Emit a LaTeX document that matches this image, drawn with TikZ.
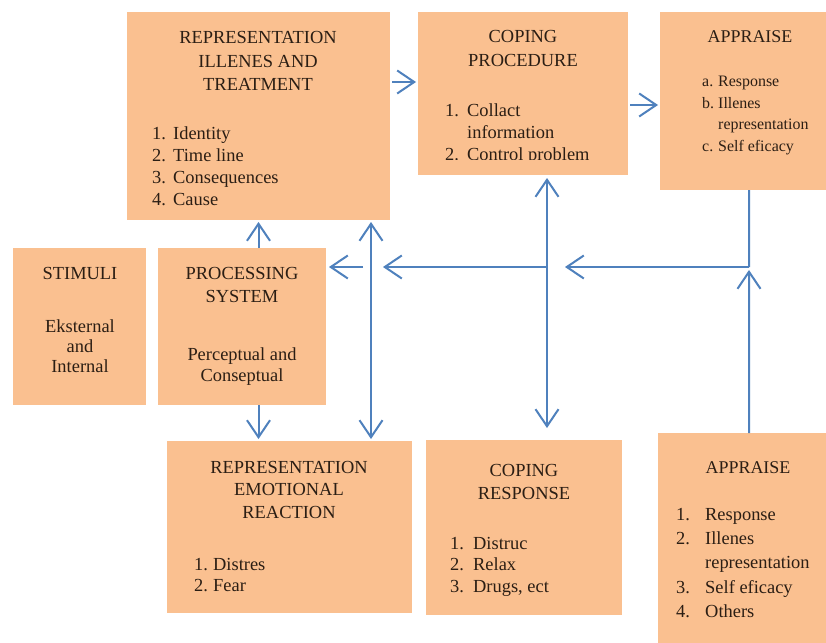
\documentclass[tikz,border=0pt]{standalone}
\usepackage{fontspec}
\setmainfont{Liberation Serif}
\usepackage{xcolor}
\usetikzlibrary{arrows.meta}

\definecolor{boxfill}{HTML}{FAC090}
\definecolor{linkblue}{HTML}{4F81BD}
\definecolor{inkbrown}{HTML}{2B1E14}

\newcommand{\ttl}[1]{\begin{tabular}[t]{@{}c@{}}#1\end{tabular}}
\newcommand{\lst}[2]{\begin{tabular}[t]{@{}p{#1}@{}l@{}}#2\end{tabular}}

\tikzset{
  box/.style={fill=boxfill, inner sep=0pt, outer sep=0pt, anchor=north west},
  txt/.style={text=inkbrown, inner sep=0pt, font=\fontsize{18.5}{22}\selectfont},
  hd/.style={txt, anchor=base, font=\fontsize{18.5}{23.5}\selectfont},
  it/.style={txt, anchor=base west},
  link/.style={draw=linkblue, line width=2bp, ->},
}

\begin{document}
\begin{tikzpicture}[x=1bp, y=-1bp, >={Straight Barb[length=17bp,width=23bp]}]
\fill[white] (0,0) rectangle (826,643);
\useasboundingbox (0,0) rectangle (826,643);

% The boxes
\node[box, minimum width=263bp, minimum height=208bp] (rit) at (127,12) {};
\node[box, minimum width=210bp, minimum height=163bp] (cp) at (418,12) {};
\node[box, minimum width=178bp, minimum height=178bp] (at) at (660,12) {};
\node[box, minimum width=133bp, minimum height=157bp] (st) at (13,248) {};
\node[box, minimum width=168bp, minimum height=157bp] (ps) at (158,248) {};
\node[box, minimum width=245bp, minimum height=172bp] (rer) at (167,441) {};
\node[box, minimum width=196bp, minimum height=175bp] (cr) at (426,440) {};
\node[box, minimum width=182bp, minimum height=230bp] (ab) at (658,433) {};

% The texts
\node[hd] (rit-h) at (258,44) {\ttl{REPRESENTATION\\ILLENES AND\\TREATMENT}};
\node[it] (rit-l) at (152,140) {\lst{21bp}{1. & Identity\\2. & Time line\\3. & Consequences\\4. & Cause}};

\node[hd] (cp-h) at (523,43) {\ttl{COPING\\PROCEDURE}};
\begin{scope}
  \clip (418,12) rectangle (628,160);
  \node[it] (cp-l) at (445,117) {\lst{22bp}{1. & Collact\\ & information\\2. & Control problem}};
\end{scope}

\node[hd, font=\fontsize{18}{22}\selectfont] (at-h) at (750,43) {\ttl{APPRAISE}};
\node[it, font=\fontsize{16}{21.5}\selectfont] (at-l) at (702,87) {\lst{16bp}{a. & Response\\b. & Illenes\\ & representation\\c. & Self eficacy}};

\node[hd] (st-h) at (80,279) {\ttl{STIMULI}};
\node[hd, font=\fontsize{18.5}{20.5}\selectfont] (st-b) at (80,332) {\ttl{Eksternal\\and\\Internal}};

\node[hd, font=\fontsize{18.5}{24}\selectfont] (ps-h) at (242,279) {\ttl{PROCESSING\\SYSTEM}};
\node[hd, font=\fontsize{18.5}{22}\selectfont] (ps-b) at (242,360) {\ttl{Perceptual and\\Conseptual}};

\node[hd, font=\fontsize{18.5}{23}\selectfont] (rer-h) at (289,473) {\ttl{REPRESENTATION\\EMOTIONAL\\REACTION}};
\node[it] (rer-l) at (194,570) {\lst{19bp}{1. & Distres\\2. & Fear}};

\node[hd, font=\fontsize{18.5}{24}\selectfont] (cr-h) at (524,476) {\ttl{COPING\\RESPONSE}};
\node[it] (cr-l) at (450,549) {\lst{23bp}{1. & Distruc\\2. & Relax\\3. & Drugs, ect}};

\node[hd, font=\fontsize{18}{22}\selectfont] (ab-h) at (748,473) {\ttl{APPRAISE}};
\node[it, font=\fontsize{18.5}{24.5}\selectfont] (ab-l) at (676,520) {\lst{29bp}{1. & Response\\2. & Illenes\\ & representation\\3. & Self eficacy\\4. & Others}};

% The links
\coordinate (lane) at (371,267);
\coordinate (mid) at (547,267);
\coordinate (hub) at (749,267);

\draw[link, shorten <=2bp, shorten >=2bp] (rit.east |- 0,82) -- (cp.west |- 0,82);
\draw[link, shorten <=2bp, shorten >=2bp] (cp.east |- 0,105) -- (at.west |- 0,105);
\draw[link, shorten >=2bp] (ps.north -| rit.south) -- (rit.south);
\draw[link, shorten >=2bp] (ps.south -| rit.south) -- (rer.north -| rit.south);
\draw[link, <->, shorten <=2bp, shorten >=2bp] (rit.south -| lane) -- (rer.north -| lane);
\draw[link, <->, shorten <=3bp, shorten >=12bp] (cp.south -| mid) -- (cr.north -| mid);
\draw[link, -] (at.south) -- (hub);
\draw[link, shorten >=3bp] (ab.north) -- (hub);
\draw[link, shorten >=18bp] (hub) -- (mid);
\draw[link, shorten >=12bp] (mid) -- (lane);
\draw[link, shorten <=8bp, shorten >=3bp] (lane) -- (ps.east |- hub);
\end{tikzpicture}
\end{document}
